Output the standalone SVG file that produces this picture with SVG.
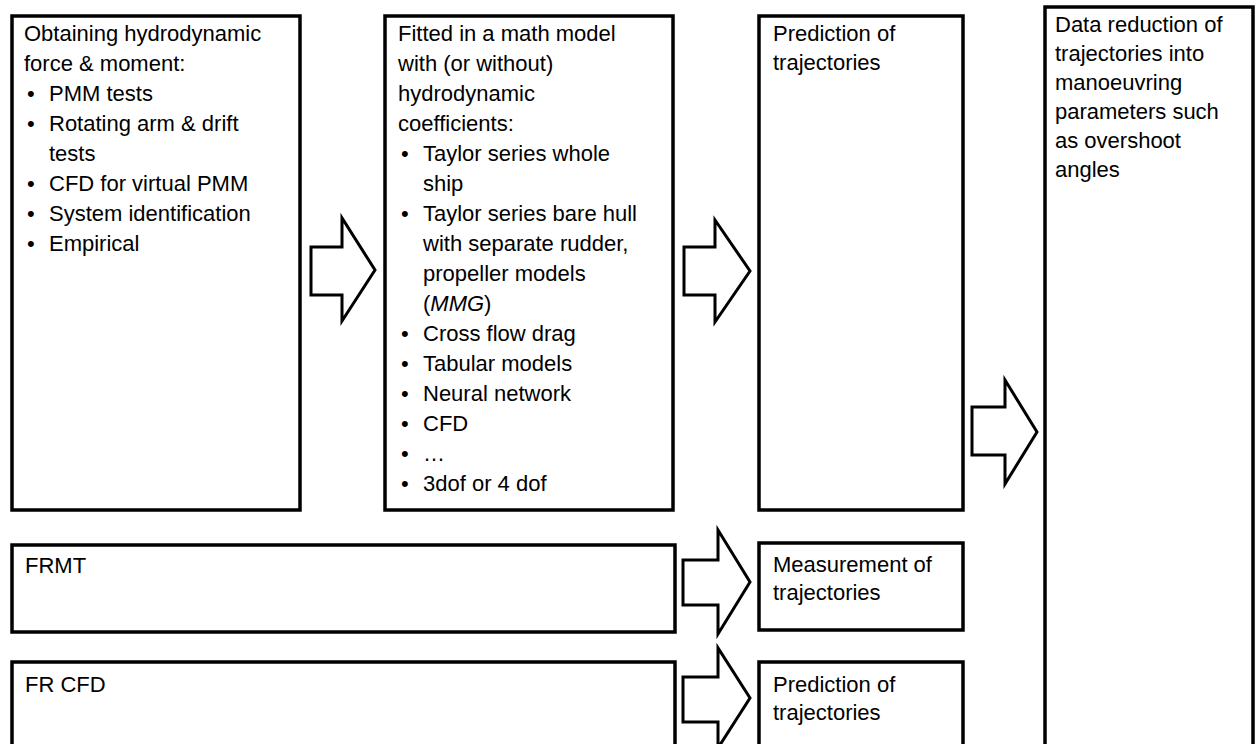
<svg xmlns="http://www.w3.org/2000/svg" width="1256" height="744" viewBox="0 0 1256 744">
<style>
.box{fill:#fff;stroke:#000;stroke-width:3.5}
.arr{fill:#fff;stroke:#000;stroke-width:3;stroke-linejoin:miter}
text{font-family:"Liberation Sans",Arial,sans-serif;font-size:22px;fill:#000}
</style>
<rect width="1256" height="744" fill="#fff"/>
<g id="node-obtaining">
<rect class="box" x="12" y="16" width="288" height="494"/>
<text x="24" y="41">Obtaining hydrodynamic</text>
<text x="24" y="71">force &amp; moment:</text>
<text x="27" y="101">•</text><text x="49" y="101">PMM tests</text>
<text x="27" y="131">•</text><text x="49" y="131">Rotating arm &amp; drift</text>
<text x="49" y="161">tests</text>
<text x="27" y="191">•</text><text x="49" y="191">CFD for virtual PMM</text>
<text x="27" y="221">•</text><text x="49" y="221">System identification</text>
<text x="27" y="251">•</text><text x="49" y="251">Empirical</text>
</g>
<g id="node-fitted">
<rect class="box" x="385" y="16" width="288" height="494"/>
<text x="398" y="41">Fitted in a math model</text>
<text x="398" y="71">with (or without)</text>
<text x="398" y="101">hydrodynamic</text>
<text x="398" y="131">coefficients:</text>
<text x="401" y="161">•</text><text x="423" y="161">Taylor series whole</text>
<text x="423" y="191">ship</text>
<text x="401" y="221">•</text><text x="423" y="221">Taylor series bare hull</text>
<text x="423" y="251">with separate rudder,</text>
<text x="423" y="281">propeller models</text>
<text x="423" y="311">(<tspan font-style="italic">MMG</tspan>)</text>
<text x="401" y="341">•</text><text x="423" y="341">Cross flow drag</text>
<text x="401" y="371">•</text><text x="423" y="371">Tabular models</text>
<text x="401" y="401">•</text><text x="423" y="401">Neural network</text>
<text x="401" y="431">•</text><text x="423" y="431">CFD</text>
<text x="401" y="461">•</text><text x="423" y="461">…</text>
<text x="401" y="491">•</text><text x="423" y="491">3dof or 4 dof</text>
</g>
<g id="node-prediction1">
<rect class="box" x="759" y="16" width="204" height="494"/>
<text x="773" y="41">Prediction of</text>
<text x="773" y="70">trajectories</text>
</g>
<g id="node-datareduction">
<rect class="box" x="1045" y="7" width="208" height="760"/>
<text x="1055" y="32">Data reduction of</text>
<text x="1055" y="61">trajectories into</text>
<text x="1055" y="90">manoeuvring</text>
<text x="1055" y="119">parameters such</text>
<text x="1055" y="148">as overshoot</text>
<text x="1055" y="177">angles</text>
</g>
<g id="node-frmt">
<rect class="box" x="12" y="545" width="663" height="87"/>
<text x="25" y="573">FRMT</text>
</g>
<g id="node-measurement">
<rect class="box" x="759" y="543" width="204" height="87"/>
<text x="773" y="572">Measurement of</text>
<text x="773" y="600">trajectories</text>
</g>
<g id="node-frcfd">
<rect class="box" x="12" y="662" width="663" height="120"/>
<text x="25" y="692">FR CFD</text>
</g>
<g id="node-prediction2">
<rect class="box" x="759" y="662" width="204" height="120"/>
<text x="773" y="692">Prediction of</text>
<text x="773" y="720">trajectories</text>
</g>
<g id="connectors">
<polygon class="arr" points="311,247 342,247 342,218 375,270 342,321 342,295 311,295"/>
<polygon class="arr" points="684,247 715,247 715,220 750,271 715,322 715,295 684,295"/>
<polygon class="arr" points="972,407 1005,407 1005,380 1037,432 1005,484 1005,455 972,455"/>
<polygon class="arr" points="683,560 718,560 718,530 750,582 718,634 718,605 683,605"/>
<polygon class="arr" points="683,677 718,677 718,648 750,698 718,748 718,722 683,722"/>
</g>
</svg>
